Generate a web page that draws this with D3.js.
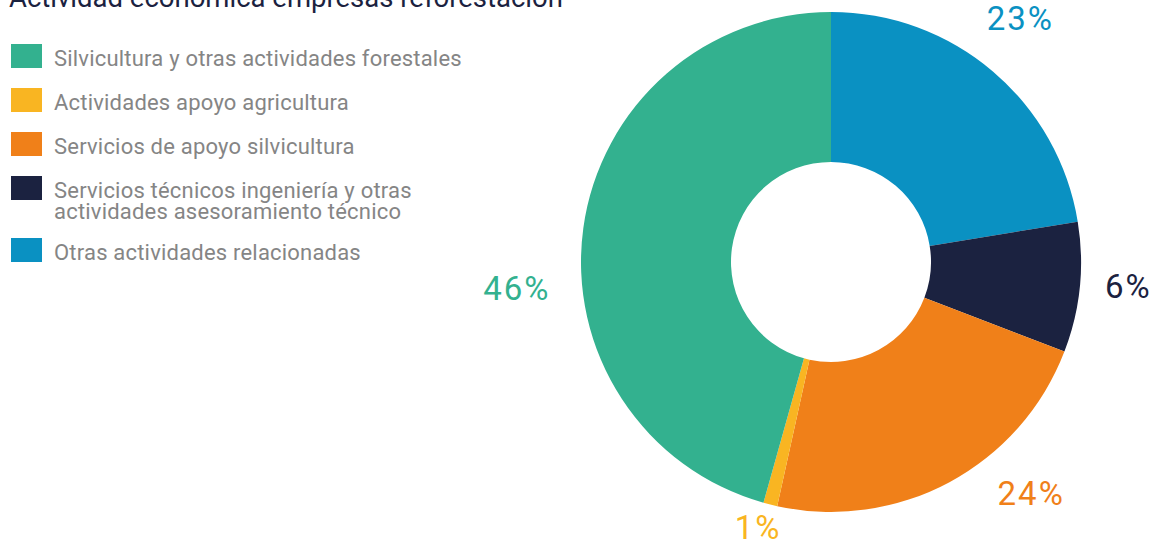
<!DOCTYPE html>
<html>
<head>
<meta charset="utf-8">
<script src="https://cdn.jsdelivr.net/npm/d3@7"></script>
<style>
  html, body { margin: 0; padding: 0; background: #fff; }
  svg { display: block; font-family: Roboto, "Open Sans", sans-serif; }
</style>
</head>
<body>
<div id="chart"></div>
<script>
// datos (orden de la leyenda)
const categories = [
  'Silvicultura y otras actividades forestales',
  'Actividades apoyo agricultura',
  'Servicios de apoyo silvicultura',
  'Servicios técnicos ingeniería y otras\nactividades asesoramiento técnico',
  'Otras actividades relacionadas'
];
const values = [45.6, 0.9, 22.6, 8.4, 22.4];
const labels = ['46%', '1%', '24%', '6%', '23%'];
const colors = ['#33b18f', '#f9b522', '#f08019', '#1b2240', '#0a91c2'];
const title = 'Actividad económica empresas reforestación';

const width = 1158;
const height = 543;

const svg = d3.select('#chart')
  .append('svg')
  .attr('width', width)
  .attr('height', height);

svg.append('text')
  .text(title)
  .attr('x', 9)
  .attr('y', 7)
  .attr('font-size', 27.5)
  .attr('fill', '#1b2240');

// leyenda
const legend = svg.append('g').attr('class', 'legend');
let ly = 44;
categories.forEach((c, i) => {
  const lines = c.split('\n');
  legend.append('rect')
    .attr('x', 11)
    .attr('y', ly)
    .attr('width', 31)
    .attr('height', 24)
    .attr('fill', colors[i]);
  const t = legend.append('text')
    .attr('x', 54)
    .attr('y', ly + 22)
    .attr('font-size', 22)
    .attr('letter-spacing', 0.2)
    .attr('fill', '#858585');
  lines.forEach((l, j) => {
    t.append('tspan')
      .attr('x', 54)
      .attr('dy', j === 0 ? 0 : 21)
      .text(l);
  });
  ly += 44 + (lines.length - 1) * 18;
});

// donut
const cx = 831, cy = 262;
const outerR = 250, innerR = 100;

const idx = d3.range(values.length).reverse();
const pie = d3.pie()
  .sort(null)
  .value(i => values[i]);
const arcs = pie(idx);

const arc = d3.arc().innerRadius(innerR).outerRadius(outerR);
const labelArc = d3.arc().innerRadius(300).outerRadius(300);

const g = svg.append('g').attr('transform', `translate(${cx},${cy})`);

g.selectAll('path')
  .data(arcs)
  .join('path')
  .attr('d', arc)
  .attr('fill', d => colors[d.data]);

// ajustes de posicion de las etiquetas
const nudge = [[-17, 67], [0, -26], [58, -33], [-1, -6], [-5, -15]];

g.selectAll('text.pct')
  .data(arcs)
  .join('text')
  .attr('class', 'pct')
  .attr('transform', d => {
    const c = labelArc.centroid(d);
    const n = nudge[d.data];
    return `translate(${c[0] + n[0]},${c[1] + n[1]})`;
  })
  .attr('text-anchor', 'middle')
  .attr('dy', '0.35em')
  .attr('font-size', 33)
  .attr('letter-spacing', 2)
  .attr('fill', d => colors[d.data])
  .text(d => labels[d.data]);
</script>
</body>
</html>
